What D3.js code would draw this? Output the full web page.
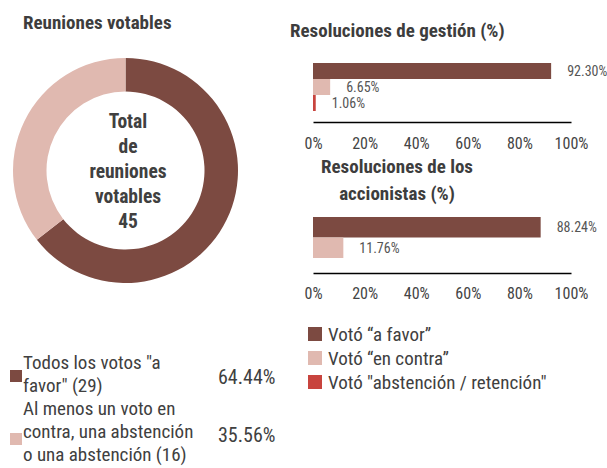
<!DOCTYPE html>
<html>
<head>
<meta charset="utf-8">
<script src="https://cdn.jsdelivr.net/npm/d3@7"></script>
<style>
  body { margin: 0; background: #fff; }
  svg text { font-family: "Roboto", sans-serif; font-stretch: condensed; }
  .title { font-weight: bold; font-size: 19px; fill: #3d3d3d; }
  .axis text { font-size: 16px; fill: #444; font-family: "Roboto", sans-serif; }
  .axis .domain { stroke: #000; stroke-width: 1.5; }
  .val { font-size: 14px; fill: #555; }
</style>
</head>
<body>
<div id="chart"></div>
<script>
// donut data
const donutLabels = [["Todos los votos \"a", "favor\" (29)"], ["Al menos un voto en", "contra, una abstención", "o una abstención (16)"]]
const donutValues = [64.44, 35.56]
const donutColors = ["#7c4a41", "#e0b9b0"]
const centerLines = ["Total", "de", "reuniones", "votables", "45"]

// bar data
const voteTypes = ["Votó “a favor”", "Votó “en contra”", "Votó \"abstención / retención\""]
const voteColors = ["#7c4a41", "#e0b9b0", "#c8443e"]
const gestionValues = [92.30, 6.65, 1.06]
const accionistasValues = [88.24, 11.76]
const xTicks = [0, 20, 40, 60, 80, 100]

const svg = d3.select("#chart").append("svg")
    .attr("width", 607)
    .attr("height", 468)

// ---- donut ----
svg.append("text").attr("class", "title")
    .attr("x", 23).attr("y", 29)
    .text("Reuniones votables")

const donutG = svg.append("g")
    .attr("transform", "translate(125.5,170.5)")

const pie = d3.pie().sort(null).value(d => d)
const arc = d3.arc().innerRadius(79).outerRadius(112.5)

donutG.selectAll("path")
    .data(pie(donutValues))
    .join("path")
        .attr("d", arc)
        .attr("fill", (d, i) => donutColors[i])

donutG.selectAll("text.center")
    .data(centerLines)
    .join("text")
        .attr("class", "center")
        .attr("text-anchor", "middle")
        .attr("x", 2.5)
        .attr("y", (d, i) => -42.5 + i * 25)
        .style("font-weight", "bold")
        .style("font-size", "19.5px")
        .style("fill", "#404040")
        .text(d => d)

// donut legend
const legTop = [369, 415]
const legSq = [370, 433]
const legPct = [384, 442]
donutLabels.forEach((lines, i) => {
    svg.append("rect")
        .attr("x", 10).attr("y", legSq[i])
        .attr("width", 12).attr("height", 12)
        .attr("fill", donutColors[i])
    lines.forEach((ln, j) => {
        svg.append("text")
            .attr("x", 23).attr("y", legTop[i] + j * 23)
            .style("font-size", "19px").style("fill", "#404040")
            .text(ln)
    })
    svg.append("text")
        .attr("x", 218).attr("y", legPct[i])
        .style("font-size", "20px").style("fill", "#404040")
        .text(d3.format(".2f")(donutValues[i]) + "%")
})

// ---- bar charts ----
const x = d3.scaleLinear().domain([0, 100]).range([313, 571])

function barChart(values, yRange, axisY, pad) {
    const y = d3.scaleBand().domain(d3.range(values.length)).range(yRange).padding(0)
    const g = svg.append("g")
    g.selectAll("rect")
        .data(values)
        .join("rect")
            .attr("x", x(0))
            .attr("y", (d, i) => y(i))
            .attr("width", d => x(d) - x(0))
            .attr("height", y.bandwidth())
            .attr("fill", (d, i) => voteColors[i])
    g.selectAll("text.val")
        .data(values)
        .join("text")
            .attr("class", "val")
            .attr("x", d => x(d) + 16)
            .attr("y", (d, i) => y(i) + y.bandwidth() / 2)
            .attr("dy", "0.35em")
            .text(d => d3.format(".2f")(d) + "%")
    const ax = d3.axisBottom(x).tickValues(xTicks)
        .tickSize(0).tickPadding(pad)
        .tickFormat(d => d + "%")
    svg.append("g").attr("class", "axis")
        .attr("transform", `translate(0,${axisY})`)
        .call(ax)
}

svg.append("text").attr("class", "title")
    .attr("x", 290).attr("y", 37)
    .text("Resoluciones de gestión (%)")
barChart(gestionValues, [63, 111], 122, 15.5)

svg.append("text").attr("class", "title")
    .attr("x", 397).attr("y", 173).attr("text-anchor", "middle")
    .text("Resoluciones de los")
svg.append("text").attr("class", "title")
    .attr("x", 397).attr("y", 200).attr("text-anchor", "middle")
    .text("accionistas (%)")
barChart(accionistasValues, [217, 258], 273, 14.5)

// vote legend
voteTypes.forEach((t, i) => {
    svg.append("rect")
        .attr("x", 308).attr("y", 327 + i * 24)
        .attr("width", 14).attr("height", 14)
        .attr("fill", voteColors[i])
    svg.append("text")
        .attr("x", 328).attr("y", 334 + i * 24)
        .attr("dy", "0.35em")
        .style("font-size", "19px").style("fill", "#404040")
        .text(t)
})
</script>
</body>
</html>
